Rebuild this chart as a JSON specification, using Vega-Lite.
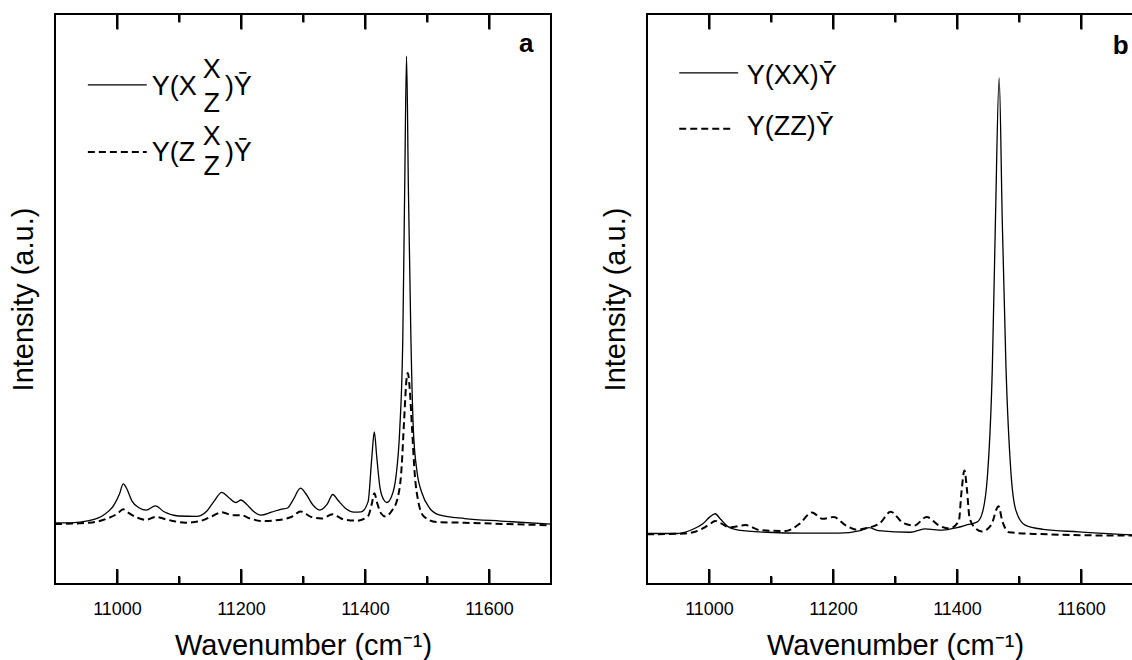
{
"$schema": "https://vega.github.io/schema/vega-lite/v6.json",
"background": "white",
"padding": {"left": 8, "top": 12, "right": 0, "bottom": 0},
"bounds": "flush",
"spacing": 96,
"datasets": {
"ticks": [
{"wavenumber":11000,"kind":"major"},{"wavenumber":11200,"kind":"major"},{"wavenumber":11400,"kind":"major"},{"wavenumber":11600,"kind":"major"},
{"wavenumber":11100,"kind":"minor"},{"wavenumber":11300,"kind":"minor"},{"wavenumber":11500,"kind":"minor"}
],
"a": [
{"series":"Y(X X/Z)Ȳ","wavenumber":10900,"intensity":145},{"series":"Y(X X/Z)Ȳ","wavenumber":10926,"intensity":145},{"series":"Y(X X/Z)Ȳ","wavenumber":10955,"intensity":150},{"series":"Y(X X/Z)Ȳ","wavenumber":10978,"intensity":163},{"series":"Y(X X/Z)Ȳ","wavenumber":10995,"intensity":187},{"series":"Y(X X/Z)Ȳ","wavenumber":11004,"intensity":213},{"series":"Y(X X/Z)Ȳ","wavenumber":11010,"intensity":237},{"series":"Y(X X/Z)Ȳ","wavenumber":11016,"intensity":225},{"series":"Y(X X/Z)Ȳ","wavenumber":11024,"intensity":197},{"series":"Y(X X/Z)Ȳ","wavenumber":11036,"intensity":180},{"series":"Y(X X/Z)Ȳ","wavenumber":11047,"intensity":175},{"series":"Y(X X/Z)Ȳ","wavenumber":11062,"intensity":185},{"series":"Y(X X/Z)Ȳ","wavenumber":11076,"intensity":171},{"series":"Y(X X/Z)Ȳ","wavenumber":11099,"intensity":161},{"series":"Y(X X/Z)Ȳ","wavenumber":11128,"intensity":160},{"series":"Y(X X/Z)Ȳ","wavenumber":11145,"intensity":173},{"series":"Y(X X/Z)Ȳ","wavenumber":11157,"intensity":197},{"series":"Y(X X/Z)Ȳ","wavenumber":11169,"intensity":217},{"series":"Y(X X/Z)Ȳ","wavenumber":11180,"intensity":205},{"series":"Y(X X/Z)Ȳ","wavenumber":11192,"intensity":193},{"series":"Y(X X/Z)Ȳ","wavenumber":11200,"intensity":199},{"series":"Y(X X/Z)Ȳ","wavenumber":11209,"intensity":189},{"series":"Y(X X/Z)Ȳ","wavenumber":11221,"intensity":171},{"series":"Y(X X/Z)Ȳ","wavenumber":11232,"intensity":163},{"series":"Y(X X/Z)Ȳ","wavenumber":11249,"intensity":170},{"series":"Y(X X/Z)Ȳ","wavenumber":11264,"intensity":177},{"series":"Y(X X/Z)Ȳ","wavenumber":11275,"intensity":180},{"series":"Y(X X/Z)Ȳ","wavenumber":11284,"intensity":199},{"series":"Y(X X/Z)Ȳ","wavenumber":11296,"intensity":227},{"series":"Y(X X/Z)Ȳ","wavenumber":11304,"intensity":215},{"series":"Y(X X/Z)Ȳ","wavenumber":11316,"intensity":187},{"series":"Y(X X/Z)Ȳ","wavenumber":11327,"intensity":175},{"series":"Y(X X/Z)Ȳ","wavenumber":11339,"intensity":189},{"series":"Y(X X/Z)Ȳ","wavenumber":11348,"intensity":212},{"series":"Y(X X/Z)Ȳ","wavenumber":11356,"intensity":199},{"series":"Y(X X/Z)Ȳ","wavenumber":11368,"intensity":180},{"series":"Y(X X/Z)Ȳ","wavenumber":11382,"intensity":170},{"series":"Y(X X/Z)Ȳ","wavenumber":11394,"intensity":171},{"series":"Y(X X/Z)Ȳ","wavenumber":11405,"intensity":195},{"series":"Y(X X/Z)Ȳ","wavenumber":11411,"intensity":300},{"series":"Y(X X/Z)Ȳ","wavenumber":11415,"intensity":360},{"series":"Y(X X/Z)Ȳ","wavenumber":11419,"intensity":300},{"series":"Y(X X/Z)Ȳ","wavenumber":11424,"intensity":230},{"series":"Y(X X/Z)Ȳ","wavenumber":11430,"intensity":200},{"series":"Y(X X/Z)Ȳ","wavenumber":11435,"intensity":193},{"series":"Y(X X/Z)Ȳ","wavenumber":11443,"intensity":208},{"series":"Y(X X/Z)Ȳ","wavenumber":11450,"intensity":255},{"series":"Y(X X/Z)Ȳ","wavenumber":11456,"intensity":365},{"series":"Y(X X/Z)Ȳ","wavenumber":11461,"intensity":585},{"series":"Y(X X/Z)Ȳ","wavenumber":11464,"intensity":935},{"series":"Y(X X/Z)Ȳ","wavenumber":11467,"intensity":1250},{"series":"Y(X X/Z)Ȳ","wavenumber":11470,"intensity":935},{"series":"Y(X X/Z)Ȳ","wavenumber":11474,"intensity":585},{"series":"Y(X X/Z)Ȳ","wavenumber":11478,"intensity":365},{"series":"Y(X X/Z)Ȳ","wavenumber":11484,"intensity":265},{"series":"Y(X X/Z)Ȳ","wavenumber":11492,"intensity":215},{"series":"Y(X X/Z)Ȳ","wavenumber":11504,"intensity":180},{"series":"Y(X X/Z)Ȳ","wavenumber":11521,"intensity":163},{"series":"Y(X X/Z)Ȳ","wavenumber":11561,"intensity":155},{"series":"Y(X X/Z)Ȳ","wavenumber":11619,"intensity":149},{"series":"Y(X X/Z)Ȳ","wavenumber":11700,"intensity":142},
{"series":"Y(Z X/Z)Ȳ","wavenumber":10900,"intensity":142},{"series":"Y(Z X/Z)Ȳ","wavenumber":10955,"intensity":145},{"series":"Y(Z X/Z)Ȳ","wavenumber":10984,"intensity":155},{"series":"Y(Z X/Z)Ȳ","wavenumber":11001,"intensity":167},{"series":"Y(Z X/Z)Ȳ","wavenumber":11010,"intensity":177},{"series":"Y(Z X/Z)Ȳ","wavenumber":11018,"intensity":169},{"series":"Y(Z X/Z)Ȳ","wavenumber":11033,"intensity":157},{"series":"Y(Z X/Z)Ȳ","wavenumber":11047,"intensity":152},{"series":"Y(Z X/Z)Ȳ","wavenumber":11062,"intensity":159},{"series":"Y(Z X/Z)Ȳ","wavenumber":11082,"intensity":152},{"series":"Y(Z X/Z)Ȳ","wavenumber":11111,"intensity":145},{"series":"Y(Z X/Z)Ȳ","wavenumber":11134,"intensity":149},{"series":"Y(Z X/Z)Ȳ","wavenumber":11154,"intensity":161},{"series":"Y(Z X/Z)Ȳ","wavenumber":11169,"intensity":170},{"series":"Y(Z X/Z)Ȳ","wavenumber":11186,"intensity":163},{"series":"Y(Z X/Z)Ȳ","wavenumber":11200,"intensity":163},{"series":"Y(Z X/Z)Ȳ","wavenumber":11215,"intensity":155},{"series":"Y(Z X/Z)Ȳ","wavenumber":11235,"intensity":149},{"series":"Y(Z X/Z)Ȳ","wavenumber":11267,"intensity":153},{"series":"Y(Z X/Z)Ȳ","wavenumber":11284,"intensity":161},{"series":"Y(Z X/Z)Ȳ","wavenumber":11296,"intensity":172},{"series":"Y(Z X/Z)Ȳ","wavenumber":11313,"intensity":159},{"series":"Y(Z X/Z)Ȳ","wavenumber":11330,"intensity":155},{"series":"Y(Z X/Z)Ȳ","wavenumber":11348,"intensity":165},{"series":"Y(Z X/Z)Ȳ","wavenumber":11365,"intensity":153},{"series":"Y(Z X/Z)Ȳ","wavenumber":11388,"intensity":150},{"series":"Y(Z X/Z)Ȳ","wavenumber":11405,"intensity":161},{"series":"Y(Z X/Z)Ȳ","wavenumber":11411,"intensity":190},{"series":"Y(Z X/Z)Ȳ","wavenumber":11415,"intensity":215},{"series":"Y(Z X/Z)Ȳ","wavenumber":11420,"intensity":190},{"series":"Y(Z X/Z)Ȳ","wavenumber":11426,"intensity":167},{"series":"Y(Z X/Z)Ȳ","wavenumber":11433,"intensity":160},{"series":"Y(Z X/Z)Ȳ","wavenumber":11443,"intensity":173},{"series":"Y(Z X/Z)Ȳ","wavenumber":11452,"intensity":200},{"series":"Y(Z X/Z)Ȳ","wavenumber":11459,"intensity":275},{"series":"Y(Z X/Z)Ȳ","wavenumber":11463,"intensity":385},{"series":"Y(Z X/Z)Ȳ","wavenumber":11467,"intensity":485},{"series":"Y(Z X/Z)Ȳ","wavenumber":11469,"intensity":500},{"series":"Y(Z X/Z)Ȳ","wavenumber":11472,"intensity":465},{"series":"Y(Z X/Z)Ȳ","wavenumber":11476,"intensity":365},{"series":"Y(Z X/Z)Ȳ","wavenumber":11480,"intensity":265},{"series":"Y(Z X/Z)Ȳ","wavenumber":11486,"intensity":195},{"series":"Y(Z X/Z)Ȳ","wavenumber":11495,"intensity":160},{"series":"Y(Z X/Z)Ȳ","wavenumber":11515,"intensity":147},{"series":"Y(Z X/Z)Ȳ","wavenumber":11561,"intensity":145},{"series":"Y(Z X/Z)Ȳ","wavenumber":11700,"intensity":139}
],
"b": [
{"series":"Y(XX)Ȳ","wavenumber":10900,"intensity":120},{"series":"Y(XX)Ȳ","wavenumber":10949,"intensity":120},{"series":"Y(XX)Ȳ","wavenumber":10972,"intensity":129},{"series":"Y(XX)Ȳ","wavenumber":10990,"intensity":143},{"series":"Y(XX)Ȳ","wavenumber":11001,"intensity":159},{"series":"Y(XX)Ȳ","wavenumber":11010,"intensity":167},{"series":"Y(XX)Ȳ","wavenumber":11018,"intensity":155},{"series":"Y(XX)Ȳ","wavenumber":11030,"intensity":137},{"series":"Y(XX)Ȳ","wavenumber":11047,"intensity":128},{"series":"Y(XX)Ȳ","wavenumber":11094,"intensity":123},{"series":"Y(XX)Ȳ","wavenumber":11151,"intensity":121},{"series":"Y(XX)Ȳ","wavenumber":11209,"intensity":121},{"series":"Y(XX)Ȳ","wavenumber":11244,"intensity":127},{"series":"Y(XX)Ȳ","wavenumber":11258,"intensity":134},{"series":"Y(XX)Ȳ","wavenumber":11273,"intensity":127},{"series":"Y(XX)Ȳ","wavenumber":11325,"intensity":123},{"series":"Y(XX)Ȳ","wavenumber":11348,"intensity":131},{"series":"Y(XX)Ȳ","wavenumber":11377,"intensity":128},{"series":"Y(XX)Ȳ","wavenumber":11400,"intensity":134},{"series":"Y(XX)Ȳ","wavenumber":11417,"intensity":141},{"series":"Y(XX)Ȳ","wavenumber":11432,"intensity":147},{"series":"Y(XX)Ȳ","wavenumber":11440,"intensity":165},{"series":"Y(XX)Ȳ","wavenumber":11449,"intensity":255},{"series":"Y(XX)Ȳ","wavenumber":11457,"intensity":515},{"series":"Y(XX)Ȳ","wavenumber":11462,"intensity":865},{"series":"Y(XX)Ȳ","wavenumber":11468,"intensity":1203},{"series":"Y(XX)Ȳ","wavenumber":11473,"intensity":865},{"series":"Y(XX)Ȳ","wavenumber":11479,"intensity":515},{"series":"Y(XX)Ȳ","wavenumber":11487,"intensity":265},{"series":"Y(XX)Ȳ","wavenumber":11495,"intensity":175},{"series":"Y(XX)Ȳ","wavenumber":11510,"intensity":140},{"series":"Y(XX)Ȳ","wavenumber":11539,"intensity":130},{"series":"Y(XX)Ȳ","wavenumber":11596,"intensity":124},{"series":"Y(XX)Ȳ","wavenumber":11682,"intensity":117},{"series":"Y(XX)Ȳ","wavenumber":11700,"intensity":116},
{"series":"Y(ZZ)Ȳ","wavenumber":10900,"intensity":118},{"series":"Y(ZZ)Ȳ","wavenumber":10961,"intensity":120},{"series":"Y(ZZ)Ȳ","wavenumber":10990,"intensity":132},{"series":"Y(ZZ)Ȳ","wavenumber":11004,"intensity":145},{"series":"Y(ZZ)Ȳ","wavenumber":11010,"intensity":150},{"series":"Y(ZZ)Ȳ","wavenumber":11018,"intensity":145},{"series":"Y(ZZ)Ȳ","wavenumber":11033,"intensity":135},{"series":"Y(ZZ)Ȳ","wavenumber":11059,"intensity":140},{"series":"Y(ZZ)Ȳ","wavenumber":11082,"intensity":128},{"series":"Y(ZZ)Ȳ","wavenumber":11123,"intensity":126},{"series":"Y(ZZ)Ȳ","wavenumber":11146,"intensity":143},{"series":"Y(ZZ)Ȳ","wavenumber":11166,"intensity":170},{"series":"Y(ZZ)Ȳ","wavenumber":11183,"intensity":155},{"series":"Y(ZZ)Ȳ","wavenumber":11201,"intensity":159},{"series":"Y(ZZ)Ȳ","wavenumber":11221,"intensity":139},{"series":"Y(ZZ)Ȳ","wavenumber":11238,"intensity":129},{"series":"Y(ZZ)Ȳ","wavenumber":11255,"intensity":133},{"series":"Y(ZZ)Ȳ","wavenumber":11276,"intensity":145},{"series":"Y(ZZ)Ȳ","wavenumber":11293,"intensity":172},{"series":"Y(ZZ)Ȳ","wavenumber":11313,"intensity":145},{"series":"Y(ZZ)Ȳ","wavenumber":11331,"intensity":139},{"series":"Y(ZZ)Ȳ","wavenumber":11351,"intensity":159},{"series":"Y(ZZ)Ȳ","wavenumber":11371,"intensity":139},{"series":"Y(ZZ)Ȳ","wavenumber":11388,"intensity":132},{"series":"Y(ZZ)Ȳ","wavenumber":11403,"intensity":150},{"series":"Y(ZZ)Ȳ","wavenumber":11407,"intensity":215},{"series":"Y(ZZ)Ȳ","wavenumber":11412,"intensity":270},{"series":"Y(ZZ)Ȳ","wavenumber":11416,"intensity":225},{"series":"Y(ZZ)Ȳ","wavenumber":11420,"intensity":160},{"series":"Y(ZZ)Ȳ","wavenumber":11428,"intensity":135},{"series":"Y(ZZ)Ȳ","wavenumber":11440,"intensity":125},{"series":"Y(ZZ)Ȳ","wavenumber":11455,"intensity":140},{"series":"Y(ZZ)Ȳ","wavenumber":11467,"intensity":185},{"series":"Y(ZZ)Ȳ","wavenumber":11473,"intensity":150},{"series":"Y(ZZ)Ȳ","wavenumber":11484,"intensity":123},{"series":"Y(ZZ)Ȳ","wavenumber":11527,"intensity":119},{"series":"Y(ZZ)Ȳ","wavenumber":11682,"intensity":115},{"series":"Y(ZZ)Ȳ","wavenumber":11700,"intensity":115}
]
},
"hconcat": [
{
"width": 496, "height": 570,
"resolve": {"axis": {"x": "independent", "y": "independent"}},
"layer": [
{"data": {"name": "a"}, "transform": [{"filter": "datum.series === 'Y(X X/Z)Ȳ'"}],
 "mark": {"type": "line", "color": "black", "strokeWidth": 1.3, "interpolate": "monotone"},
 "encoding": {
  "x": {"field": "wavenumber", "type": "quantitative", "scale": {"domain": [10900, 11700], "nice": false, "zero": false},
        "axis": {"orient": "bottom", "values": [11000, 11200, 11400, 11600], "format": "d", "ticks": false, "grid": true, "gridDash": [15, 540, 15], "labelPadding": 16, "labelFontSize": 18, "title": "Wavenumber (cm⁻¹)", "titleFontSize": 29, "titlePadding": 13}},
  "y": {"field": "intensity", "type": "quantitative", "scale": {"domain": [0, 1350], "nice": false, "zero": false},
        "axis": {"orient": "left", "title": "Intensity (a.u.)", "gridOpacity": 0, "ticks": false, "labels": false, "titleFontSize": 29, "titlePadding": 17}}
 }},
{"data": {"name": "a"}, "transform": [{"filter": "datum.series === 'Y(Z X/Z)Ȳ'"}],
 "mark": {"type": "line", "color": "black", "strokeWidth": 2, "strokeDash": [7, 4], "interpolate": "monotone"},
 "encoding": {
  "x": {"field": "wavenumber", "type": "quantitative", "axis": {"orient": "bottom", "values": [11100, 11300, 11500], "ticks": false, "grid": true, "gridDash": [8, 554, 8], "labels": false, "title": null}},
  "y": {"field": "intensity", "type": "quantitative", "axis": null}
 }},
{"data": {"name": "ticks"}, "transform": [{"filter": "datum.kind === 'major'"}],
 "mark": {"type": "rule", "color": "black", "strokeWidth": 2},
 "encoding": {"x": {"field": "wavenumber", "type": "quantitative", "axis": null}, "y": {"datum": 0, "type": "quantitative", "axis": null}, "y2": {"datum": 35.5}}},
{"data": {"name": "ticks"}, "transform": [{"filter": "datum.kind === 'major'"}],
 "mark": {"type": "rule", "color": "black", "strokeWidth": 2},
 "encoding": {"x": {"field": "wavenumber", "type": "quantitative", "axis": null}, "y": {"datum": 1314.5, "type": "quantitative", "axis": null}, "y2": {"datum": 1350}}},
{"data": {"name": "ticks"}, "transform": [{"filter": "datum.kind === 'minor'"}],
 "mark": {"type": "rule", "color": "black", "strokeWidth": 2},
 "encoding": {"x": {"field": "wavenumber", "type": "quantitative", "axis": null}, "y": {"datum": 0, "type": "quantitative", "axis": null}, "y2": {"datum": 19}}},
{"data": {"name": "ticks"}, "transform": [{"filter": "datum.kind === 'minor'"}],
 "mark": {"type": "rule", "color": "black", "strokeWidth": 2},
 "encoding": {"x": {"field": "wavenumber", "type": "quantitative", "axis": null}, "y": {"datum": 1331, "type": "quantitative", "axis": null}, "y2": {"datum": 1350}}},
{"data": {"values": [{}]},
 "mark": {"type": "rule", "color": "black", "strokeWidth": 1.3},
 "encoding": {
  "x": {"datum": 10953, "type": "quantitative", "axis": null},
  "x2": {"datum": 11048},
  "y": {"datum": 1182, "type": "quantitative", "axis": null}
 }},
{"data": {"values": [{}]},
 "mark": {"type": "rule", "color": "black", "strokeWidth": 2, "strokeDash": [7, 4]},
 "encoding": {
  "x": {"datum": 10953, "type": "quantitative", "axis": null},
  "x2": {"datum": 11048},
  "y": {"datum": 1023, "type": "quantitative", "axis": null}
 }},
{"data": {"values": [{}]}, "mark": {"type": "text", "text": "Y(X", "align": "left", "baseline": "middle", "fontSize": 27},
 "encoding": {"x": {"datum": 11056, "type": "quantitative", "axis": null}, "y": {"datum": 1178, "type": "quantitative", "axis": null}}},
{"data": {"values": [{}]}, "mark": {"type": "text", "text": "X", "align": "center", "baseline": "middle", "fontSize": 27},
 "encoding": {"x": {"datum": 11153, "type": "quantitative", "axis": null}, "y": {"datum": 1217, "type": "quantitative", "axis": null}}},
{"data": {"values": [{}]}, "mark": {"type": "text", "text": "Z", "align": "center", "baseline": "middle", "fontSize": 27},
 "encoding": {"x": {"datum": 11153, "type": "quantitative", "axis": null}, "y": {"datum": 1136, "type": "quantitative", "axis": null}}},
{"data": {"values": [{}]}, "mark": {"type": "text", "text": ")Ȳ", "align": "left", "baseline": "middle", "fontSize": 27},
 "encoding": {"x": {"datum": 11174, "type": "quantitative", "axis": null}, "y": {"datum": 1178, "type": "quantitative", "axis": null}}},
{"data": {"values": [{}]}, "mark": {"type": "text", "text": "Y(Z", "align": "left", "baseline": "middle", "fontSize": 27},
 "encoding": {"x": {"datum": 11056, "type": "quantitative", "axis": null}, "y": {"datum": 1021, "type": "quantitative", "axis": null}}},
{"data": {"values": [{}]}, "mark": {"type": "text", "text": "X", "align": "center", "baseline": "middle", "fontSize": 27},
 "encoding": {"x": {"datum": 11153, "type": "quantitative", "axis": null}, "y": {"datum": 1059, "type": "quantitative", "axis": null}}},
{"data": {"values": [{}]}, "mark": {"type": "text", "text": "Z", "align": "center", "baseline": "middle", "fontSize": 27},
 "encoding": {"x": {"datum": 11153, "type": "quantitative", "axis": null}, "y": {"datum": 988, "type": "quantitative", "axis": null}}},
{"data": {"values": [{}]}, "mark": {"type": "text", "text": ")Ȳ", "align": "left", "baseline": "middle", "fontSize": 27},
 "encoding": {"x": {"datum": 11174, "type": "quantitative", "axis": null}, "y": {"datum": 1021, "type": "quantitative", "axis": null}}},
{"data": {"values": [{}]}, "mark": {"type": "text", "text": "a", "align": "center", "baseline": "middle", "fontSize": 26, "fontWeight": "bold"},
 "encoding": {"x": {"datum": 11660, "type": "quantitative", "axis": null}, "y": {"datum": 1280, "type": "quantitative", "axis": null}}}
]
},
{
"width": 496, "height": 570,
"resolve": {"axis": {"x": "independent", "y": "independent"}},
"layer": [
{"data": {"name": "b"}, "transform": [{"filter": "datum.series === 'Y(XX)Ȳ'"}],
 "mark": {"type": "line", "color": "black", "strokeWidth": 1.3, "interpolate": "monotone"},
 "encoding": {
  "x": {"field": "wavenumber", "type": "quantitative", "scale": {"domain": [10900, 11700], "nice": false, "zero": false},
        "axis": {"orient": "bottom", "values": [11000, 11200, 11400, 11600], "format": "d", "ticks": false, "grid": true, "gridDash": [15, 540, 15], "labelPadding": 16, "labelFontSize": 18, "title": "Wavenumber (cm⁻¹)", "titleFontSize": 29, "titlePadding": 13}},
  "y": {"field": "intensity", "type": "quantitative", "scale": {"domain": [0, 1355], "nice": false, "zero": false},
        "axis": {"orient": "left", "title": "Intensity (a.u.)", "gridOpacity": 0, "ticks": false, "labels": false, "titleFontSize": 29, "titlePadding": 17}}
 }},
{"data": {"name": "b"}, "transform": [{"filter": "datum.series === 'Y(ZZ)Ȳ'"}],
 "mark": {"type": "line", "color": "black", "strokeWidth": 2, "strokeDash": [7, 4], "interpolate": "monotone"},
 "encoding": {
  "x": {"field": "wavenumber", "type": "quantitative", "axis": {"orient": "bottom", "values": [11100, 11300, 11500], "ticks": false, "grid": true, "gridDash": [8, 554, 8], "labels": false, "title": null}},
  "y": {"field": "intensity", "type": "quantitative", "axis": null}
 }},
{"data": {"name": "ticks"}, "transform": [{"filter": "datum.kind === 'major'"}],
 "mark": {"type": "rule", "color": "black", "strokeWidth": 2},
 "encoding": {"x": {"field": "wavenumber", "type": "quantitative", "axis": null}, "y": {"datum": 0, "type": "quantitative", "axis": null}, "y2": {"datum": 35.7}}},
{"data": {"name": "ticks"}, "transform": [{"filter": "datum.kind === 'major'"}],
 "mark": {"type": "rule", "color": "black", "strokeWidth": 2},
 "encoding": {"x": {"field": "wavenumber", "type": "quantitative", "axis": null}, "y": {"datum": 1319.3, "type": "quantitative", "axis": null}, "y2": {"datum": 1355}}},
{"data": {"name": "ticks"}, "transform": [{"filter": "datum.kind === 'minor'"}],
 "mark": {"type": "rule", "color": "black", "strokeWidth": 2},
 "encoding": {"x": {"field": "wavenumber", "type": "quantitative", "axis": null}, "y": {"datum": 0, "type": "quantitative", "axis": null}, "y2": {"datum": 19}}},
{"data": {"name": "ticks"}, "transform": [{"filter": "datum.kind === 'minor'"}],
 "mark": {"type": "rule", "color": "black", "strokeWidth": 2},
 "encoding": {"x": {"field": "wavenumber", "type": "quantitative", "axis": null}, "y": {"datum": 1336, "type": "quantitative", "axis": null}, "y2": {"datum": 1355}}},
{"data": {"values": [{}]},
 "mark": {"type": "rule", "color": "black", "strokeWidth": 1.3},
 "encoding": {
  "x": {"datum": 10952, "type": "quantitative", "axis": null},
  "x2": {"datum": 11047},
  "y": {"datum": 1215, "type": "quantitative", "axis": null}
 }},
{"data": {"values": [{}]},
 "mark": {"type": "rule", "color": "black", "strokeWidth": 2, "strokeDash": [7, 4]},
 "encoding": {
  "x": {"datum": 10952, "type": "quantitative", "axis": null},
  "x2": {"datum": 11039},
  "y": {"datum": 1082, "type": "quantitative", "axis": null}
 }},
{"data": {"values": [{}]}, "mark": {"type": "text", "text": "Y(XX)Ȳ", "align": "left", "baseline": "middle", "fontSize": 27},
 "encoding": {"x": {"datum": 11061, "type": "quantitative", "axis": null}, "y": {"datum": 1208, "type": "quantitative", "axis": null}}},
{"data": {"values": [{}]}, "mark": {"type": "text", "text": "Y(ZZ)Ȳ", "align": "left", "baseline": "middle", "fontSize": 27},
 "encoding": {"x": {"datum": 11061, "type": "quantitative", "axis": null}, "y": {"datum": 1086, "type": "quantitative", "axis": null}}},
{"data": {"values": [{}]}, "mark": {"type": "text", "text": "b", "align": "center", "baseline": "middle", "fontSize": 26, "fontWeight": "bold"},
 "encoding": {"x": {"datum": 11664, "type": "quantitative", "axis": null}, "y": {"datum": 1280, "type": "quantitative", "axis": null}}}
]
}
],
"config": {
 "font": "Liberation Sans",
 "view": {"stroke": "black", "strokeWidth": 2},
 "axis": {"domain": false, "gridColor": "black", "gridWidth": 2, "gridOpacity": 1, "labelColor": "black", "titleColor": "black", "titleFontWeight": "normal", "labelFont": "Liberation Sans", "titleFont": "Liberation Sans"},
 "text": {"color": "black", "font": "Liberation Sans"}
}
}
